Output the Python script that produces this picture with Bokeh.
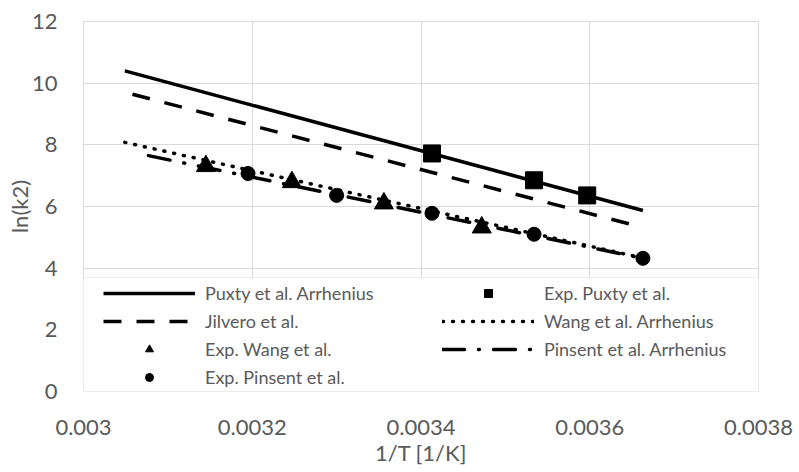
from bokeh.plotting import figure
from bokeh.models import (Range1d, FixedTicker, CustomJSTickFormatter, Legend,
                          LegendItem, BoxAnnotation)
from bokeh.embed import file_html
from bokeh.resources import INLINE

# ---- data ----
x_ticks = [0.003, 0.0032, 0.0034, 0.0036, 0.0038]
y_ticks = [0, 2, 4, 6, 8, 10, 12]

puxty_arr_x = [0.003049, 0.003663]
puxty_arr_y = [10.40, 5.87]

jilvero_x = [0.003058, 0.003663]
jilvero_y = [9.64, 5.32]

wang_arr_x = [0.003049, 0.003663]
wang_arr_y = [8.08, 4.33]

pinsent_arr_x = [0.003077, 0.003663]
pinsent_arr_y = [7.65, 4.32]

exp_puxty_x = [0.003413, 0.003534, 0.003597]
exp_puxty_y = [7.72, 6.85, 6.36]

exp_wang_x = [0.003145, 0.003247, 0.003356, 0.003472]
exp_wang_y = [7.31, 6.79, 6.10, 5.32]

exp_pinsent_x = [0.003195, 0.003300, 0.003413, 0.003534, 0.003663]
exp_pinsent_y = [7.07, 6.36, 5.78, 5.10, 4.32]

FONT = "Lato"
GRAY = "#595959"
GRID = "#d9d9d9"

p = figure(width=799, height=472, output_backend="svg", toolbar_location=None,
           x_range=Range1d(0.003, 0.0038), y_range=Range1d(0, 12),
           min_border_left=83, min_border_right=41, min_border_top=21,
           min_border_bottom=81)
p.background_fill_color = "white"
p.border_fill_color = "white"
p.outline_line_color = GRID

for ax in (p.xaxis[0], p.yaxis[0]):
    ax.axis_line_color = None
    ax.major_tick_line_color = None
    ax.minor_tick_line_color = None
    ax.major_tick_out = 0
    ax.major_tick_in = 0
    ax.major_label_text_font = FONT
    ax.major_label_text_font_size = "22px"
    ax.major_label_text_color = GRAY
    ax.axis_label_text_font = FONT
    ax.axis_label_text_font_size = "22px"
    ax.axis_label_text_font_style = "normal"
    ax.axis_label_text_color = GRAY

p.xaxis.ticker = FixedTicker(ticks=x_ticks)
p.yaxis.ticker = FixedTicker(ticks=y_ticks)
p.xaxis.formatter = CustomJSTickFormatter(code="return parseFloat(tick.toFixed(5)).toString();")
p.xaxis.axis_label = "1/T [1/K]"
p.yaxis.axis_label = "ln(k2)"
p.xaxis.major_label_standoff = 28
p.xaxis.axis_label_standoff = 1
p.yaxis.major_label_standoff = 26
p.yaxis.axis_label_standoff = -4

p.xgrid.ticker = FixedTicker(ticks=x_ticks)
p.ygrid.ticker = FixedTicker(ticks=y_ticks)
p.xgrid.grid_line_color = GRID
p.ygrid.grid_line_color = GRID

LW = 3.5
r_puxty = p.line(puxty_arr_x, puxty_arr_y, line_color="black", line_width=LW)
r_jil = p.line(jilvero_x, jilvero_y, line_color="black", line_width=LW,
               line_dash="18 15")
r_wang = p.line(wang_arr_x, wang_arr_y, line_color="black", line_width=LW,
                line_dash="1 9", line_cap="round")
r_pins = p.line(pinsent_arr_x, pinsent_arr_y, line_color="black", line_width=LW,
                line_dash="22 14 1 14", line_cap="round")

r_ep = p.scatter(exp_puxty_x, exp_puxty_y, marker="square", size=17, color="black")
r_ew = p.scatter(exp_wang_x, exp_wang_y, marker="triangle", size=19, color="black")
r_epi = p.scatter(exp_pinsent_x, exp_pinsent_y, marker="circle", size=14, color="black")

box = BoxAnnotation(left=82, right=760, top=277, bottom=392,
                    left_units="canvas", right_units="canvas",
                    top_units="canvas", bottom_units="canvas",
                    fill_color="white", fill_alpha=1.0,
                    line_color="#c8c8c8", line_width=1)
p.add_layout(box)

def mk_legend(items, loc):
    lg = Legend(items=items, location=loc, padding=0, spacing=0,
                glyph_width=92, glyph_height=20, label_height=28,
                label_standoff=10, label_text_font=FONT,
                label_text_font_size="18px", label_text_color=GRAY,
                border_line_color=None, background_fill_alpha=0,
                margin=0)
    return lg

leg_a = mk_legend([
    LegendItem(label="Puxty et al. Arrhenius", renderers=[r_puxty]),
    LegendItem(label="Jilvero et al.", renderers=[r_jil]),
    LegendItem(label="Exp. Wang et al.", renderers=[r_ew]),
    LegendItem(label="Exp. Pinsent et al.", renderers=[r_epi]),
], (20, 0))
leg_b = mk_legend([
    LegendItem(label="Exp. Puxty et al.", renderers=[r_ep]),
    LegendItem(label="Wang et al. Arrhenius", renderers=[r_wang]),
    LegendItem(label="Pinsent et al. Arrhenius", renderers=[r_pins]),
], (359, 28))
p.add_layout(leg_a, "center")
p.add_layout(leg_b, "center")

open("out.html", "w").write(file_html(p, INLINE))
